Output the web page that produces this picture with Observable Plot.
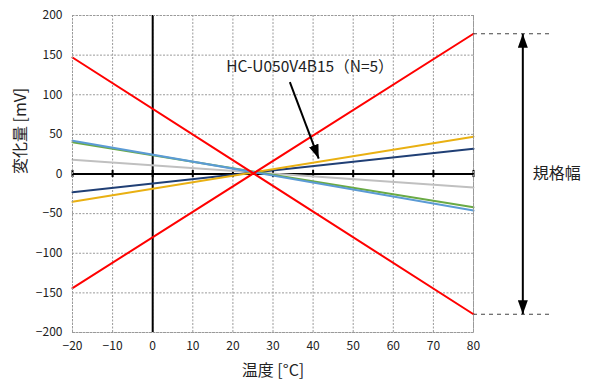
<!DOCTYPE html>
<html>
<head>
<meta charset="utf-8">
<script src="https://cdn.jsdelivr.net/npm/d3@7"></script>
<script src="https://cdn.jsdelivr.net/npm/@observablehq/plot@0.6"></script>
<style>
  html, body { margin: 0; padding: 0; background: #fff; }
  #chart { width: 594px; height: 385px; }
</style>
</head>
<body>
<div id="chart"></div>
<script>
// ---- data ----
const xEnds = [-20, 80];                 // temperature at line ends [°C]
const redUpper = [147, -177];            // spec limit line (decreasing)
const redLower = [-144, 177];            // spec limit line (increasing)
const sampleBlue = [42, -46];
const sampleGreen = [40, -42];
const sampleGray = [18, -17];
const sampleNavy = [-23, 32];
const sampleYellow = [-35, 47];
const xTicks = [-20, -10, 0, 10, 20, 30, 40, 50, 60, 70, 80];
const yTicks = [-200, -150, -100, -50, 0, 50, 100, 150, 200];
const specLimits = [177, -177];
const xLabel = "温度 [°C]";
const yLabel = "変化量 [mV]";
const annotText = "HC-U050V4B15（N=5）";
const specText = "規格幅";
// annotation anchors (data coordinates)
const annotPos = {x: 39.2, y: 135};
const annotArrow = {x1: 34.2, y1: 116, x2: 41.4, y2: 19.5};
const specArrowX = 92.3;
const specLineEnd = 99;
const specTextX = 94.8;

const series = [
  {name: "gray", values: sampleGray, color: "#c0c0c0"},
  {name: "navy", values: sampleNavy, color: "#203f75"},
  {name: "yellow", values: sampleYellow, color: "#e9b012"},
  {name: "green", values: sampleGreen, color: "#6aaa45"},
  {name: "blue", values: sampleBlue, color: "#5b9bd5"},
  {name: "redUpper", values: redUpper, color: "#ff0000"},
  {name: "redLower", values: redLower, color: "#ff0000"}
];

const fmt = d => d < 0 ? "\u2212" + Math.abs(d) : String(d);
const gridStyle = {stroke: "#9a9a9a", strokeWidth: 1, strokeDasharray: "2,1.5", strokeOpacity: 1};

const marks = [
  Plot.ruleX(xTicks, {x: d => d, ...gridStyle}),
  Plot.ruleY(yTicks, {y: d => d, ...gridStyle}),
  // zero axes
  Plot.ruleY([0], {stroke: "#000", strokeWidth: 2}),
  Plot.ruleX([0], {stroke: "#000", strokeWidth: 2}),
  Plot.ruleX(xTicks, {x: d => d, y1: -4.5, y2: 4.5, stroke: "#000", strokeWidth: 2}),
];
for (const s of series) {
  const rows = xEnds.map((x, i) => ({x, y: s.values[i]}));
  marks.push(Plot.line(rows, {x: "x", y: "y", stroke: s.color, strokeWidth: 2}));
}
marks.push(
  // spec limit dashed extensions
  Plot.ruleY(specLimits, {y: d => d, x1: 80, x2: specLineEnd, stroke: "#444", strokeWidth: 1.2, strokeDasharray: "4,4"}),
  Plot.link([annotArrow], {x1: "x1", y1: "y1", x2: "x2", y2: "y2", stroke: "#000", strokeWidth: 2}),
  Plot.link([{x1: specArrowX, y1: specLimits[0], x2: specArrowX, y2: specLimits[1]}], {x1: "x1", y1: "y1", x2: "x2", y2: "y2", stroke: "#000", strokeWidth: 2}),
  Plot.text([annotPos], {x: "x", y: "y", text: () => annotText, fontSize: 15.5, fill: "#222", textAnchor: "middle"}),
  Plot.text([{x: specTextX, y: 0}], {x: "x", y: "y", text: () => specText, fontSize: 16, fill: "#222", textAnchor: "start"}),
  Plot.text([xLabel], {frameAnchor: "bottom", dy: 43, text: d => d, fontSize: 16, fill: "#222"}),
  Plot.text([yLabel], {frameAnchor: "left", dx: -52, rotate: -90, text: d => d, fontSize: 16, fill: "#222"})
);

const chart = Plot.plot({
  width: 594,
  height: 385,
  marginLeft: 72,
  marginRight: 121,
  marginTop: 15,
  marginBottom: 53,
  style: {fontFamily: "'Noto Sans CJK JP', 'Noto Sans', sans-serif", fontSize: "12px", color: "#222", background: "#fff"},
  x: {domain: [-20, 80], ticks: xTicks, tickFormat: fmt, tickSize: 0, tickPadding: 9, label: null},
  y: {domain: [-200, 200], ticks: yTicks, tickFormat: fmt, tickSize: 0, tickPadding: 10, label: null},
  marks: [
    ...marks,
    Plot.frame({stroke: "#9a9a9a", strokeDasharray: "2,1.5"})
  ]
});

// filled triangular arrowheads
const ns = "http://www.w3.org/2000/svg";
const defs = document.createElementNS(ns, "defs");
const marker = document.createElementNS(ns, "marker");
marker.setAttribute("id", "tri-head");
marker.setAttribute("viewBox", "-14 -5 14 10");
marker.setAttribute("refX", "0");
marker.setAttribute("refY", "0");
marker.setAttribute("markerWidth", "14");
marker.setAttribute("markerHeight", "10");
marker.setAttribute("markerUnits", "userSpaceOnUse");
marker.setAttribute("orient", "auto-start-reverse");
const mp = document.createElementNS(ns, "path");
mp.setAttribute("d", "M-14,-5L0,0L-14,5Z");
mp.setAttribute("fill", "#000");
marker.appendChild(mp);
defs.appendChild(marker);
chart.insertBefore(defs, chart.firstChild);
const linkGroups = chart.querySelectorAll('g[aria-label="link"]');
if (linkGroups.length >= 2) {
  linkGroups[0].querySelectorAll("path, line").forEach(p => {
    p.setAttribute("marker-end", "url(#tri-head)");
  });
  linkGroups[1].querySelectorAll("path, line").forEach(p => {
    p.setAttribute("marker-end", "url(#tri-head)");
    p.setAttribute("marker-start", "url(#tri-head)");
  });
}

document.getElementById("chart").appendChild(chart);
</script>
</body>
</html>
